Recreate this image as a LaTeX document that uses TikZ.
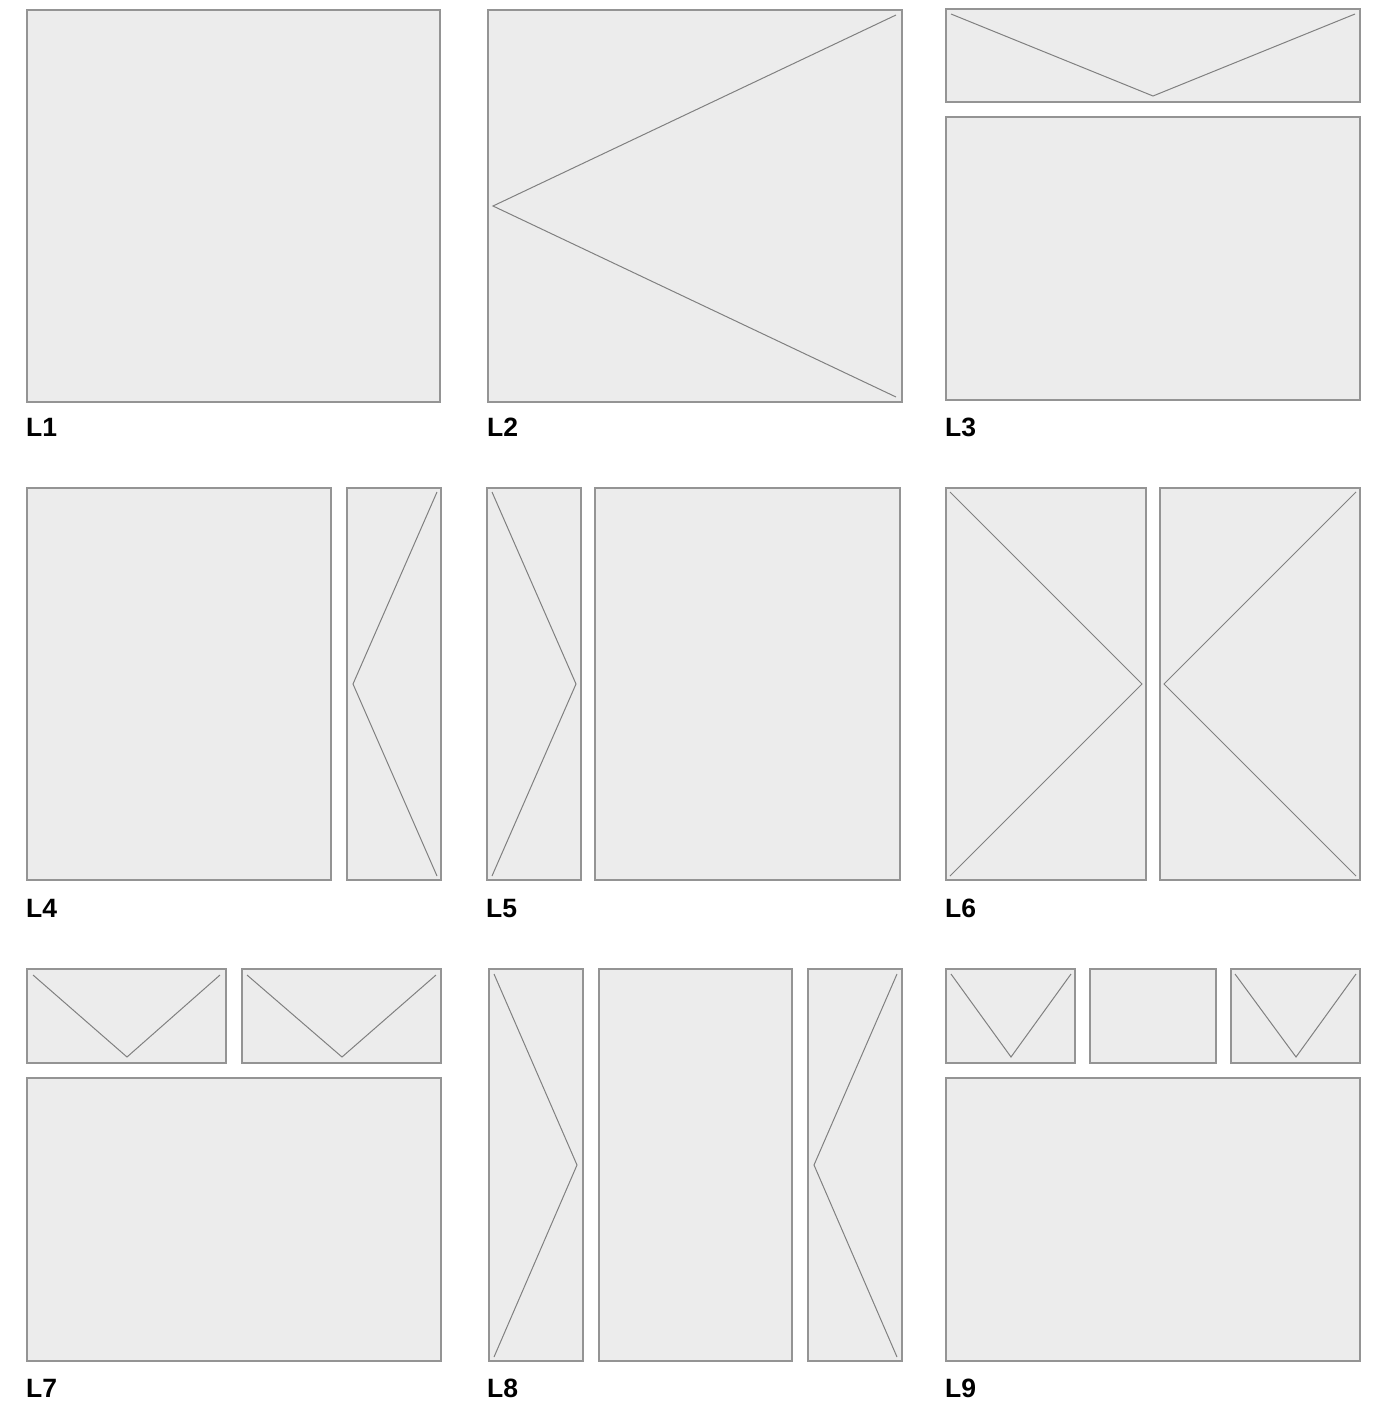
\documentclass[tikz,border=0pt]{standalone}
\usepackage{fontspec}
\setmainfont{Liberation Sans}
\begin{document}
\begin{tikzpicture}[x=1pt,y=-1pt,
  panel/.style={draw=black!42,fill=black!7.5,line width=1.3pt},
  guide/.style={draw=black!50,line width=1pt,line join=miter},
  lbl/.style={anchor=base west,inner sep=0pt,text depth=0pt,font=\fontsize{26.5}{28}\selectfont\bfseries}]
\useasboundingbox (0,0) rectangle (1376,1403);
% ---- Row 1
\draw[panel] (27,10) rectangle (440,402);
\node[lbl] (l1) at (26,436) {L1};
\draw[panel] (488,10) rectangle (902,402);
\draw[guide] (896,15) -- (493,206) -- (896,397);
\node[lbl] (l2) at (487,436) {L2};
\draw[panel] (946,9) rectangle (1360,102);
\draw[guide] (951,14) -- (1153,96) -- (1355,14);
\draw[panel] (946,117) rectangle (1360,400);
\node[lbl] (l3) at (945,436) {L3};
% ---- Row 2
\draw[panel] (27,488) rectangle (331,880);
\draw[panel] (347,488) rectangle (441,880);
\draw[guide] (437,492) -- (353,684) -- (437,876);
\node[lbl] (l4) at (26,917) {L4};
\draw[panel] (487,488) rectangle (581,880);
\draw[guide] (492,492) -- (576,684) -- (492,876);
\draw[panel] (595,488) rectangle (900,880);
\node[lbl] (l5) at (486,917) {L5};
\draw[panel] (946,488) rectangle (1146,880);
\draw[guide] (950,492) -- (1142,684) -- (950,876);
\draw[panel] (1160,488) rectangle (1360,880);
\draw[guide] (1356,492) -- (1164,684) -- (1356,876);
\node[lbl] (l6) at (945,917) {L6};
% ---- Row 3
\draw[panel] (27,969) rectangle (226,1063);
\draw[guide] (33,975) -- (127,1057) -- (220,975);
\draw[panel] (242,969) rectangle (441,1063);
\draw[guide] (247,975) -- (342,1057) -- (436,975);
\draw[panel] (27,1078) rectangle (441,1361);
\node[lbl] (l7) at (26,1397) {L7};
\draw[panel] (489,969) rectangle (583,1361);
\draw[guide] (494,974) -- (577,1165) -- (494,1357);
\draw[panel] (599,969) rectangle (792,1361);
\draw[panel] (808,969) rectangle (902,1361);
\draw[guide] (897,974) -- (814,1165) -- (897,1357);
\node[lbl] (l8) at (487,1397) {L8};
\draw[panel] (946,969) rectangle (1075,1063);
\draw[guide] (951,974) -- (1011,1057) -- (1071,974);
\draw[panel] (1090,969) rectangle (1216,1063);
\draw[panel] (1231,969) rectangle (1360,1063);
\draw[guide] (1235,974) -- (1296,1057) -- (1356,974);
\draw[panel] (946,1078) rectangle (1360,1361);
\node[lbl] (l9) at (945,1397) {L9};
\end{tikzpicture}
\end{document}
